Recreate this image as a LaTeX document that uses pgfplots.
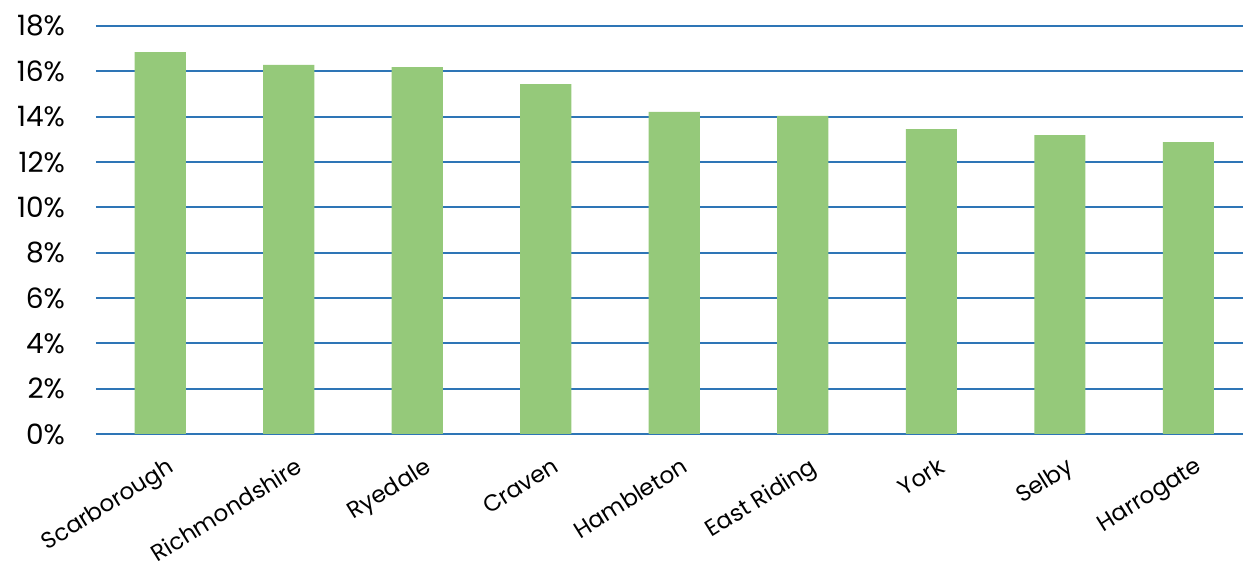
\documentclass[border=0pt]{standalone}
\usepackage{pgfplots}
\pgfplotsset{compat=1.18}
\usepackage{fontspec}
\setmainfont{Poppins}
\definecolor{barg}{RGB}{149,201,122}
\definecolor{gridb}{RGB}{46,117,182}
\begin{document}
\begin{tikzpicture}
\begin{axis}[
  scale only axis,
  width=573.5pt, height=204pt,
  xmin=-0.5, xmax=8.426,
  ymin=0, ymax=18,
  axis line style={draw=none},
  major tick length=0pt,
  ytick={0,2,...,18},
  yticklabels={0\%,2\%,4\%,6\%,8\%,10\%,12\%,14\%,16\%,18\%},
  ymajorgrids,
  grid style={gridb, line width=0.9pt},
  xtick=data,
  xticklabels={Scarborough,Richmondshire,Ryedale,Craven,Hambleton,East Riding,York,Selby,Harrogate},
  tick label style={text=black},
  yticklabel style={font=\fontsize{14}{16}\selectfont, xshift=-12pt},
  xticklabel style={font=\fontsize{11.5}{13}\selectfont, xshift=3pt, yshift=-11pt, rotate=32, anchor=north east, inner sep=0pt},
  clip=false,
]
\addplot[ybar, bar width=0.397, fill=barg, draw=none] coordinates {
(0,16.85) (1,16.28) (2,16.19) (3,15.44) (4,14.21) (5,14.03) (6,13.45) (7,13.19) (8,12.88)};
\end{axis}
\pgfresetboundingbox
\path ([xshift=-48pt,yshift=-63.5pt]current axis.south west) rectangle ([yshift=13pt]current axis.north east);
\end{tikzpicture}
\end{document}
